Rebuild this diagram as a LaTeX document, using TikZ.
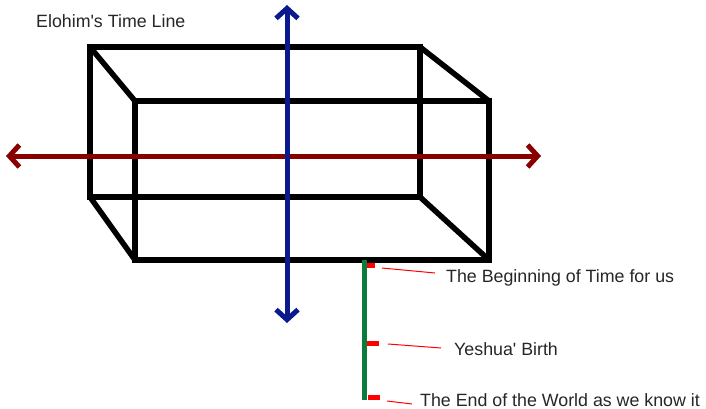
\documentclass[tikz,border=0pt]{standalone}
\usepackage{fontspec}
\newfontfamily\labelfont{Liberation Sans}
\usetikzlibrary{arrows.meta}
\definecolor{boxblack}{HTML}{000000}
\definecolor{axisred}{HTML}{880000}
\definecolor{axisblue}{HTML}{0A1A8C}
\definecolor{linegreen}{HTML}{0B7A3B}
\definecolor{tickred}{HTML}{FF0000}
\tikzset{
  boxline/.style={draw=boxblack, line width=5.5pt, line join=miter},
  axisarrow/.style={line width=5pt, {Straight Barb[length=10pt,width=22pt,line width=5pt]}-{Straight Barb[length=10pt,width=22pt,line width=5pt]}},
  label/.style={font=\labelfont\fontsize{17.8}{20}\selectfont, text=black!85, inner sep=0pt, anchor=base west},
  tick/.style={fill=tickred, inner sep=0pt, minimum height=5pt},
  pointer/.style={draw=tickred, line width=1pt}
}
\begin{document}
\begin{tikzpicture}[x=1pt,y=-1pt]
\useasboundingbox (0,0) rectangle (706,409);
% box corners
\coordinate (b1) at (90,47);
\coordinate (b2) at (420,47);
\coordinate (b3) at (420,197);
\coordinate (b4) at (90,197);
\coordinate (f1) at (135,101);
\coordinate (f2) at (489,101);
\coordinate (f3) at (489,260);
\coordinate (f4) at (135,260);
\draw[boxline] (b1) -- (b2) -- (b3) -- (b4) -- cycle;
\draw[boxline] (f1) -- (f2) -- (f3) -- (f4) -- cycle;
\draw[boxline] (b1) -- (f1);
\draw[boxline] (b2) -- (f2);
\draw[boxline] (b3) -- (f3);
\draw[boxline] (b4) -- (f4);
% axes
\coordinate (rl) at (6,156);
\coordinate (rr) at (541,156);
\coordinate (bt) at (287,5);
\coordinate (bb) at (287,323);
\draw[axisarrow, draw=axisred] (rl) -- (rr);
\draw[axisarrow, draw=axisblue] (bt) -- (bb);
% green time line
\coordinate (gt) at (364,260);
\coordinate (gb) at (364,400);
\draw[draw=linegreen, line width=5pt] (gt) -- (gb);
% ticks
\node[tick, minimum width=8pt] (t1) at (371,265) {};
\node[tick, minimum width=12pt] (t2) at (373,343.5) {};
\node[tick, minimum width=12pt] (t3) at (374,397.5) {};
% labels
\node[label] (title) at (36,27.5) {Elohim's Time Line};
\node[label] (l1) at (446,282) {The Beginning of Time for us};
\node[label] (l2) at (454,355) {Yeshua' Birth};
\node[label] (l3) at (420,406.5) {The End of the World as we know it};
% pointers
\coordinate (p1a) at (382,268);
\coordinate (p1b) at (435,273);
\coordinate (p2a) at (388,344);
\coordinate (p2b) at (441,348);
\coordinate (p3a) at (387,401);
\coordinate (p3b) at (412,404);
\draw[pointer] (p1a) -- (p1b);
\draw[pointer] (p2a) -- (p2b);
\draw[pointer] (p3a) -- (p3b);
\end{tikzpicture}
\end{document}
